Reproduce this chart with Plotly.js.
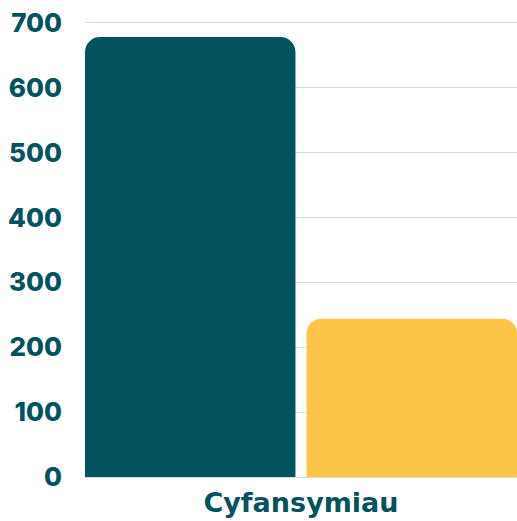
<!DOCTYPE html>
<html>
<head>
<meta charset="utf-8">
<script src="https://cdn.plot.ly/plotly-3.0.1.min.js"></script>
<style>
  html, body { margin: 0; padding: 0; background: #ffffff; }
  #chart { width: 517px; height: 521px; }
</style>
</head>
<body>
<div id="chart"></div>
<script>
(function () {
  "use strict";

  // Data.
  var CATEGORIES = ["Cyfansymiau"];
  var SERIES_NAMES = ["Cyfres 1", "Cyfres 2"];
  var SERIES_A = [678];
  var SERIES_B = [244];
  var Y_TICKS = [0, 100, 200, 300, 400, 500, 600, 700];

  var TEAL = "#03535f";
  var YELLOW = "#fcc54a";
  var GRID = "#d3dfe4";
  var FONT = "Inter, 'DejaVu Sans', sans-serif";
  var WIDE_FONT = "'DejaVu Sans', Inter, sans-serif";

  var traces = [
    {
      type: "bar",
      name: SERIES_NAMES[0],
      x: CATEGORIES,
      y: SERIES_A,
      marker: { color: TEAL },
      hoverinfo: "y",
    },
    {
      type: "bar",
      name: SERIES_NAMES[1],
      x: CATEGORIES,
      y: SERIES_B,
      marker: { color: YELLOW },
      hoverinfo: "y",
    },
  ];

  var layout = {
    width: 517,
    height: 521,
    autosize: false,
    paper_bgcolor: "#ffffff",
    plot_bgcolor: "#ffffff",
    margin: { l: 85, r: 0, t: 0, b: 44 },
    showlegend: false,
    barmode: "group",
    bargap: 0,
    bargroupgap: 0.05,
    barcornerradius: 15,
    font: { family: FONT, color: TEAL, size: 26, weight: 700 },
    xaxis: {
      type: "category",
      range: [-0.4875, 0.4875],
      showgrid: false,
      showline: false,
      zeroline: false,
      ticks: "",
      tickfont: { family: WIDE_FONT, color: TEAL, size: 27, weight: 700 },
      ticklabelstandoff: 7,
    },
    yaxis: {
      range: [0, 735],
      tickvals: Y_TICKS,
      ticktext: Y_TICKS.map(String),
      showgrid: true,
      gridcolor: GRID,
      gridwidth: 1,
      zeroline: true,
      zerolinecolor: GRID,
      zerolinewidth: 1,
      showline: false,
      ticks: "",
      ticklabelstandoff: 22,
      tickfont: { family: FONT, color: TEAL, size: 26, weight: 800 },
    },
  };

  Plotly.newPlot("chart", traces, layout, { displayModeBar: false, staticPlot: true });
})();
</script>
</body>
</html>
